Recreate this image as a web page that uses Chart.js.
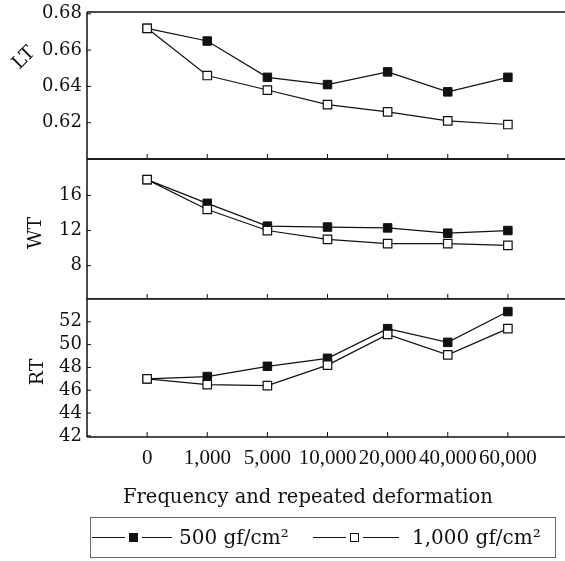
<!DOCTYPE html>
<html>
<head>
<meta charset="utf-8">
<script src="https://cdn.jsdelivr.net/npm/chart.js@4"></script>
<style>
  body { margin: 0; background: #fff; font-family: "DejaVu Serif", serif; color: #111; }
  #wrap { position: relative; width: 565px; height: 561px; overflow: hidden; }
  #wrap canvas { position: absolute; left: 0; }
  .ylab { position: absolute; font-size: 19px; white-space: nowrap; line-height: 1; }
  #xtitle { position: absolute; left: 123px; top: 485px; font-size: 19.5px; line-height: 24px; white-space: nowrap; }
  #legend { position: absolute; left: 90px; top: 517px; width: 464px; height: 39px;
            border: 1px solid #666; font-size: 19.5px; }
  #legend span { position: absolute; }
  .seg { top: 19px; height: 1px; background: #111; }
  .mk { top: 15px; width: 7px; height: 7px; border: 1px solid #111; }
  .txt { top: 7px; line-height: 24px; white-space: nowrap; font-size: 20px; }
</style>
</head>
<body>
<div id="wrap">
  <canvas id="lt" width="565" height="160" style="top:0px"></canvas>
  <canvas id="wt" width="565" height="141" style="top:158px"></canvas>
  <canvas id="rt" width="565" height="219" style="top:298px"></canvas>
  <div class="ylab" style="left:23px;top:57px;transform:translate(-50%,-50%) rotate(-45deg)">LT</div>
  <div class="ylab" style="left:34px;top:233px;transform:translate(-50%,-50%) rotate(-90deg)">WT</div>
  <div class="ylab" style="left:36px;top:372px;transform:translate(-50%,-50%) rotate(-90deg)">RT</div>
  <div id="xtitle">Frequency and repeated deformation</div>
  <div id="legend">
    <span class="seg" style="left:1px;width:33px"></span>
    <span class="mk" style="left:38px;background:#111"></span>
    <span class="seg" style="left:51px;width:30px"></span>
    <span class="txt" style="left:88px">500 gf/cm²</span>
    <span class="seg" style="left:222px;width:33px"></span>
    <span class="mk" style="left:259px;background:#fff"></span>
    <span class="seg" style="left:272px;width:36px"></span>
    <span class="txt" style="left:321px">1,000 gf/cm²</span>
  </div>
</div>
<script>
const categories = ['0', '1,000', '5,000', '10,000', '20,000', '40,000', '60,000'];

const lt500 = [0.672, 0.665, 0.645, 0.641, 0.648, 0.637, 0.645];
const lt1000 = [0.672, 0.646, 0.638, 0.630, 0.626, 0.621, 0.619];
const wt500 = [17.8, 15.1, 12.5, 12.4, 12.3, 11.7, 12.0];
const wt1000 = [17.8, 14.4, 12.0, 11.0, 10.5, 10.5, 10.3];
const rt500 = [47.0, 47.2, 48.1, 48.8, 51.4, 50.2, 52.9];
const rt1000 = [47.0, 46.5, 46.4, 48.2, 50.9, 49.1, 51.4];

const ltTicks = [0.62, 0.64, 0.66, 0.68];
const wtTicks = [8, 12, 16];
const rtTicks = [42, 44, 46, 48, 50, 52];

const font = { family: '"DejaVu Serif", serif', size: 18 };
const xFont = { family: '"Liberation Serif", serif', size: 21 };

// box lines and little inward tick marks
const frame = {
  id: 'frame',
  afterDraw(chart) {
    const { ctx, chartArea: a, scales: { x, y } } = chart;
    ctx.save();
    ctx.strokeStyle = '#111';
    ctx.lineWidth = 1.5;
    ctx.beginPath();
    ctx.moveTo(a.left, a.top); ctx.lineTo(a.right, a.top);
    ctx.moveTo(a.left, a.bottom); ctx.lineTo(a.right, a.bottom);
    ctx.moveTo(a.left, a.top); ctx.lineTo(a.left, a.bottom);
    ctx.stroke();
    ctx.lineWidth = 1;
    ctx.beginPath();
    categories.forEach((c, i) => {
      const px = x.getPixelForValue(i);
      ctx.moveTo(px, a.bottom); ctx.lineTo(px, a.bottom - 5);
    });
    y.ticks.forEach(t => {
      const py = y.getPixelForValue(t.value);
      ctx.moveTo(a.left, py); ctx.lineTo(a.left + 4, py);
    });
    ctx.stroke();
    ctx.restore();
  }
};

function toPoints(arr) {
  return arr.map((v, i) => ({ x: i, y: v }));
}

function panel(id, pad, s500, s1000, yMin, yMax, yTicks, fmt, showX) {
  return new Chart(document.getElementById(id), {
    type: 'line',
    data: {
      datasets: [{
        label: '500 gf/cm²',
        data: toPoints(s500),
        borderColor: '#111',
        borderWidth: 1.2,
        pointStyle: 'rect',
        pointRadius: 6,
        pointBackgroundColor: '#111',
        pointBorderColor: '#111',
        pointBorderWidth: 1,
        order: 1
      }, {
        label: '1,000 gf/cm²',
        data: toPoints(s1000),
        borderColor: '#111',
        borderWidth: 1.2,
        pointStyle: 'rect',
        pointRadius: 6,
        pointBackgroundColor: '#fff',
        pointBorderColor: '#111',
        pointBorderWidth: 1.2,
        order: 0
      }]
    },
    options: {
      responsive: false,
      animation: false,
      events: [],
      layout: { padding: pad, autoPadding: false },
      plugins: { legend: { display: false }, tooltip: { enabled: false } },
      scales: {
        x: {
          type: 'linear',
          min: -1,
          max: 6.95,
          display: showX,
          grid: { display: false, drawTicks: false },
          border: { display: false },
          afterBuildTicks: s => { s.ticks = categories.map((c, i) => ({ value: i })); },
          afterFit: s => {
            if (showX) s.height = 80;
            s.paddingLeft = 0; s.paddingRight = 0;
          },
          ticks: {
            color: '#111',
            font: xFont,
            padding: 9,
            maxRotation: 0,
            autoSkip: false,
            callback: v => categories[v]
          }
        },
        y: {
          min: yMin,
          max: yMax,
          grid: { display: false, drawTicks: false },
          border: { display: false },
          afterBuildTicks: s => { s.ticks = yTicks.map(v => ({ value: v })); },
          afterFit: s => { s.width = 87; s.paddingTop = 0; s.paddingBottom = 0; },
          ticks: { color: '#111', font: font, padding: 5, autoSkip: false, callback: fmt }
        }
      }
    },
    plugins: [frame]
  });
}

panel('lt', { top: 12, bottom: 1, left: 0, right: 0 }, lt500, lt1000, 0.6, 0.681, ltTicks, v => v.toFixed(2), false);
panel('wt', { top: 1, bottom: 0, left: 0, right: 0 }, wt500, wt1000, 4.2, 20.15, wtTicks, v => String(v), false);
panel('rt', { top: 1, bottom: 0, left: 0, right: 0 }, rt500, rt1000, 41.9, 54, rtTicks, v => String(v), true);
</script>
</body>
</html>
